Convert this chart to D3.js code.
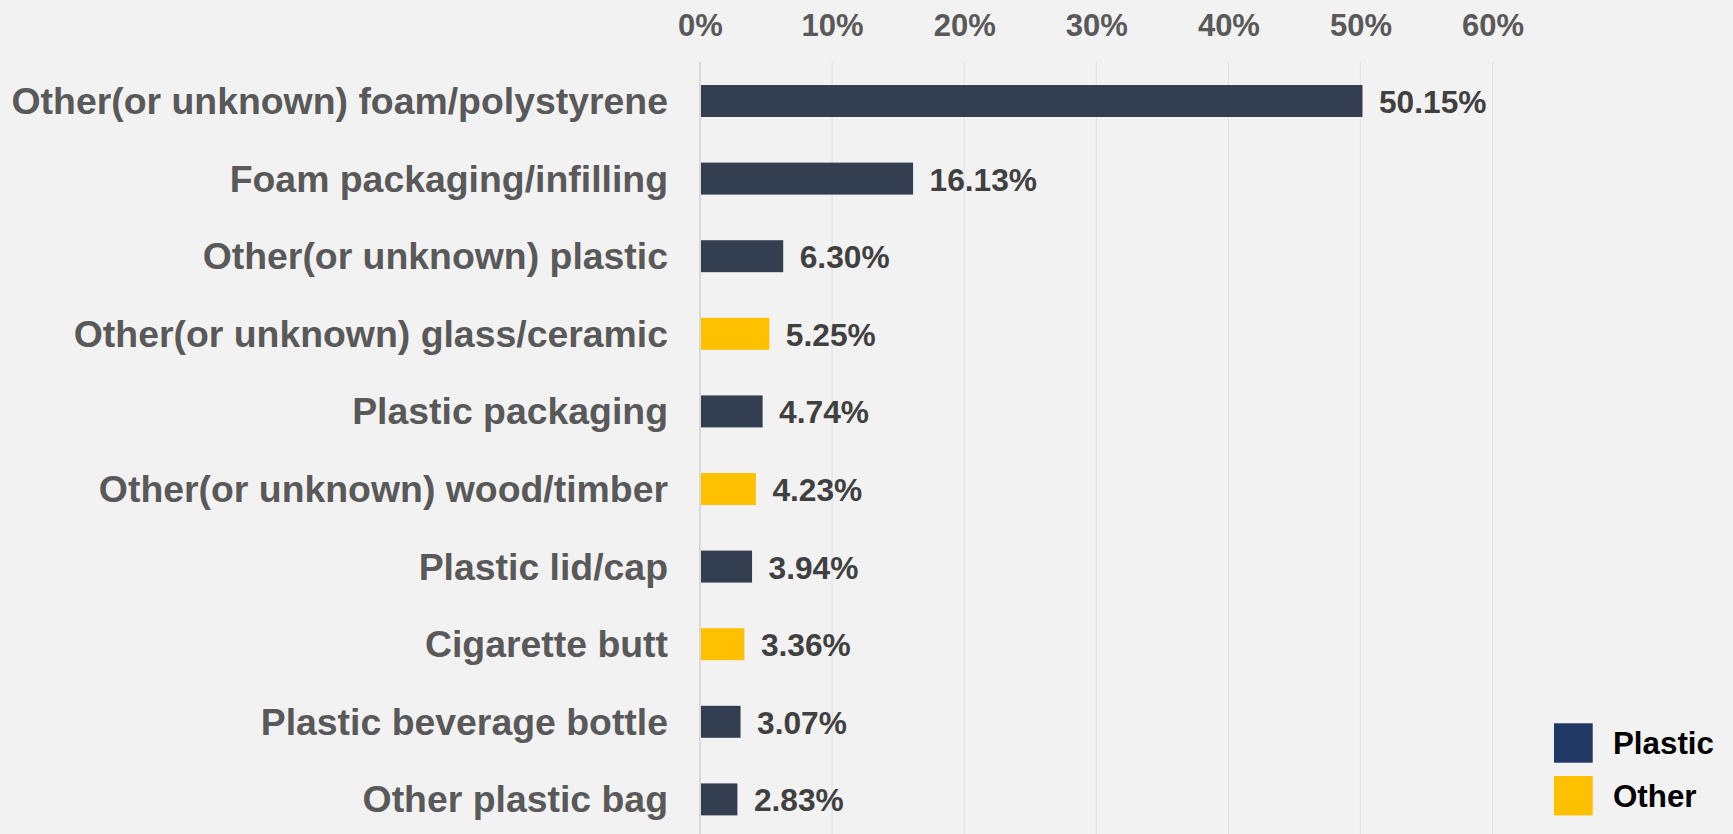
<!DOCTYPE html>
<html>
<head>
<meta charset="utf-8">
<script src="https://cdn.jsdelivr.net/npm/d3@7"></script>
<style>
  html, body { margin: 0; padding: 0; background: #F2F2F2; }
  svg { display: block; font-family: Arial, "Liberation Sans", sans-serif; font-weight: bold; }
</style>
</head>
<body>
<svg id="chart" width="1733" height="834"></svg>
<script>
const categories = [
  "Other(or unknown) foam/polystyrene",
  "Foam packaging/infilling",
  "Other(or unknown) plastic",
  "Other(or unknown) glass/ceramic",
  "Plastic packaging",
  "Other(or unknown) wood/timber",
  "Plastic lid/cap",
  "Cigarette butt",
  "Plastic beverage bottle",
  "Other plastic bag"
];
const values = [50.15, 16.13, 6.30, 5.25, 4.74, 4.23, 3.94, 3.36, 3.07, 2.83];
const groups = ["Plastic", "Plastic", "Plastic", "Other", "Plastic", "Other", "Plastic", "Other", "Plastic", "Plastic"];
const tickValues = [0, 10, 20, 30, 40, 50, 60];
const legendItems = ["Plastic", "Other"];

const barColor = { Plastic: "#333F50", Other: "#FFC000" };
const legendColor = { Plastic: "#203864", Other: "#FFC000" };

const svg = d3.select("#chart");
const W = 1733, H = 834;
svg.append("rect").attr("width", W).attr("height", H).attr("fill", "#F2F2F2");

const x = d3.scaleLinear().domain([0, 60]).range([700, 1492.6]);
const y = d3.scaleBand().domain(categories).range([62.2, 838.2])
  .paddingInner(0.588).paddingOuter(0.294);

// gridlines
svg.append("g").selectAll("line").data(tickValues.filter(d => d > 0)).join("line")
  .attr("x1", d => x(d)).attr("x2", d => x(d))
  .attr("y1", 62).attr("y2", H)
  .attr("stroke", "#E3E3E3").attr("stroke-width", 1.2);

// top axis labels
const axis = d3.axisTop(x).tickValues(tickValues).tickFormat(d => d + "%").tickSize(0).tickPadding(0);
const ax = svg.append("g").attr("transform", "translate(0,36)").call(axis);
ax.select(".domain").remove();
ax.selectAll("text").attr("fill", "#595959").attr("font-size", 31)
  .attr("font-family", "Arial, 'Liberation Sans', sans-serif").attr("font-weight", "bold")
  .attr("dy", 0);

// bars
svg.append("g").selectAll("rect").data(categories).join("rect")
  .attr("x", x(0) + 1)
  .attr("y", d => y(d))
  .attr("width", (d, i) => x(values[i]) - x(0) - 1)
  .attr("height", y.bandwidth())
  .attr("fill", (d, i) => barColor[groups[i]]);

// zero axis line
svg.append("line")
  .attr("x1", x(0)).attr("x2", x(0)).attr("y1", 62).attr("y2", H)
  .attr("stroke", "#D9D9D9").attr("stroke-width", 2);

// category labels
svg.append("g").selectAll("text").data(categories).join("text")
  .attr("x", 668)
  .attr("y", d => y(d) + y.bandwidth() / 2)
  .attr("dy", "0.35em")
  .attr("text-anchor", "end")
  .attr("font-size", 37.4)
  .attr("fill", "#595959")
  .text(d => d);

// value labels
svg.append("g").selectAll("text").data(categories).join("text")
  .attr("x", (d, i) => x(values[i]) + 16.5)
  .attr("y", d => y(d) + y.bandwidth() / 2)
  .attr("dy", "0.38em")
  .attr("font-size", 31.7)
  .attr("fill", "#404040")
  .text((d, i) => values[i].toFixed(2) + "%");

// legend
const lg = svg.append("g");
legendItems.forEach((k, i) => {
  const top = 723.3 + i * 52.7;
  lg.append("rect").attr("x", 1554).attr("y", top).attr("width", 38.7).attr("height", 39.4)
    .attr("fill", legendColor[k]);
  lg.append("text").attr("x", 1613).attr("y", top + 19.7).attr("dy", "0.36em")
    .attr("font-size", 31.3).attr("fill", "#000").text(k);
});
</script>
</body>
</html>
